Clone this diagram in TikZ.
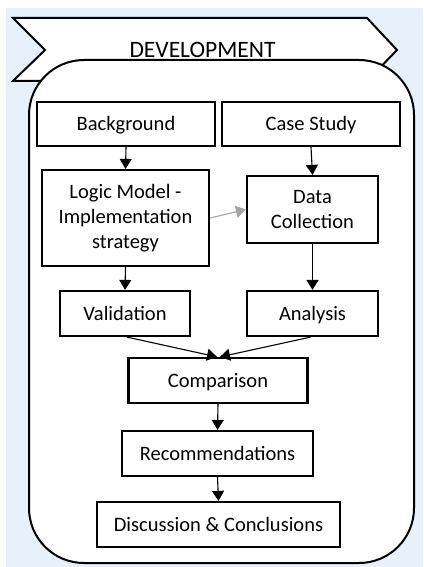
\documentclass[tikz,border=0pt]{standalone}
\usepackage{fontspec}
\setmainfont{Carlito}
\usetikzlibrary{arrows.meta}
\definecolor{panelblue}{RGB}{232,240,251}
\definecolor{linkgray}{RGB}{165,165,165}
\tikzset{
  stepbox/.style={draw=black, line width=2.2pt, fill=white, rectangle,
    inner sep=0pt, align=center, font=\fontsize{20.5}{25}\selectfont},
  oneline/.style={text height=15.4pt, text depth=2pt},
  flow/.style={line width=1.1pt, -{Triangle[length=10pt,width=12pt]}},
  softflow/.style={draw=linkgray, line width=1.1pt,
    -{Triangle[length=10pt,width=12pt,fill=linkgray]}},
}
\begin{document}
\begin{tikzpicture}[x=1pt,y=-1pt]
\useasboundingbox (0,0) rectangle (423,567);
% page background
\fill[panelblue] (6,8) rectangle (423,567);
% banner
\draw[line width=2pt, fill=white, line join=miter]
  (13,18) -- (367,18) -- (397,50) -- (367,81) -- (13,81) -- (45,50) -- cycle;
% rounded frame
\draw[line width=2pt, fill=white, rounded corners=55pt] (29,60) rectangle (414,563);
\node[font=\fontsize{23.5}{28}\selectfont, text height=17.6pt, text depth=2.3pt]
  (title) at (202.5,50) {DEVELOPMENT};

% steps
\node[stepbox, oneline, minimum width=178pt, minimum height=44pt] (bg) at (126,124) {Background};
\node[stepbox, oneline, minimum width=178pt, minimum height=44pt] (cs) at (311,124) {Case Study};
\node[stepbox, minimum width=167pt, minimum height=96pt] (lm) at (125.5,218) {Logic Model -\\Implementation\\strategy};
\node[stepbox, minimum width=131pt, minimum height=67pt] (dc) at (312.5,209.5) {Data\\Collection};
\node[stepbox, oneline, minimum width=130pt, minimum height=45pt] (va) at (125,313.5) {Validation};
\node[stepbox, oneline, minimum width=131pt, minimum height=45pt] (an) at (312.5,313.5) {Analysis};
\node[stepbox, oneline, minimum width=179pt, minimum height=45pt] (cp) at (218,380.5) {Comparison};
\node[stepbox, oneline, minimum width=191pt, minimum height=45pt] (rc) at (217.5,453.5) {Recommendations};
\node[stepbox, oneline, minimum width=243pt, minimum height=45pt] (dcc) at (218.5,524.5) {Discussion \& Conclusions};

% connectors
\draw[flow] (bg.south) -- (lm.north);
\draw[flow] (cs.south) -- (dc.north);
\draw[softflow] (lm.east) -- (dc.west);
\draw[flow] (lm.south) -- (va.north);
\draw[flow] (dc.south) -- (an.north);
\draw[flow] ([xshift=2pt]va.south) -- ([xshift=-1pt]cp.north);
\draw[flow] ([xshift=-2pt]an.south) -- ([xshift=2pt]cp.north);
\draw[flow] (cp.south) -- (rc.north);
\draw[flow] (rc.south) -- (dcc.north);
\end{tikzpicture}
\end{document}
